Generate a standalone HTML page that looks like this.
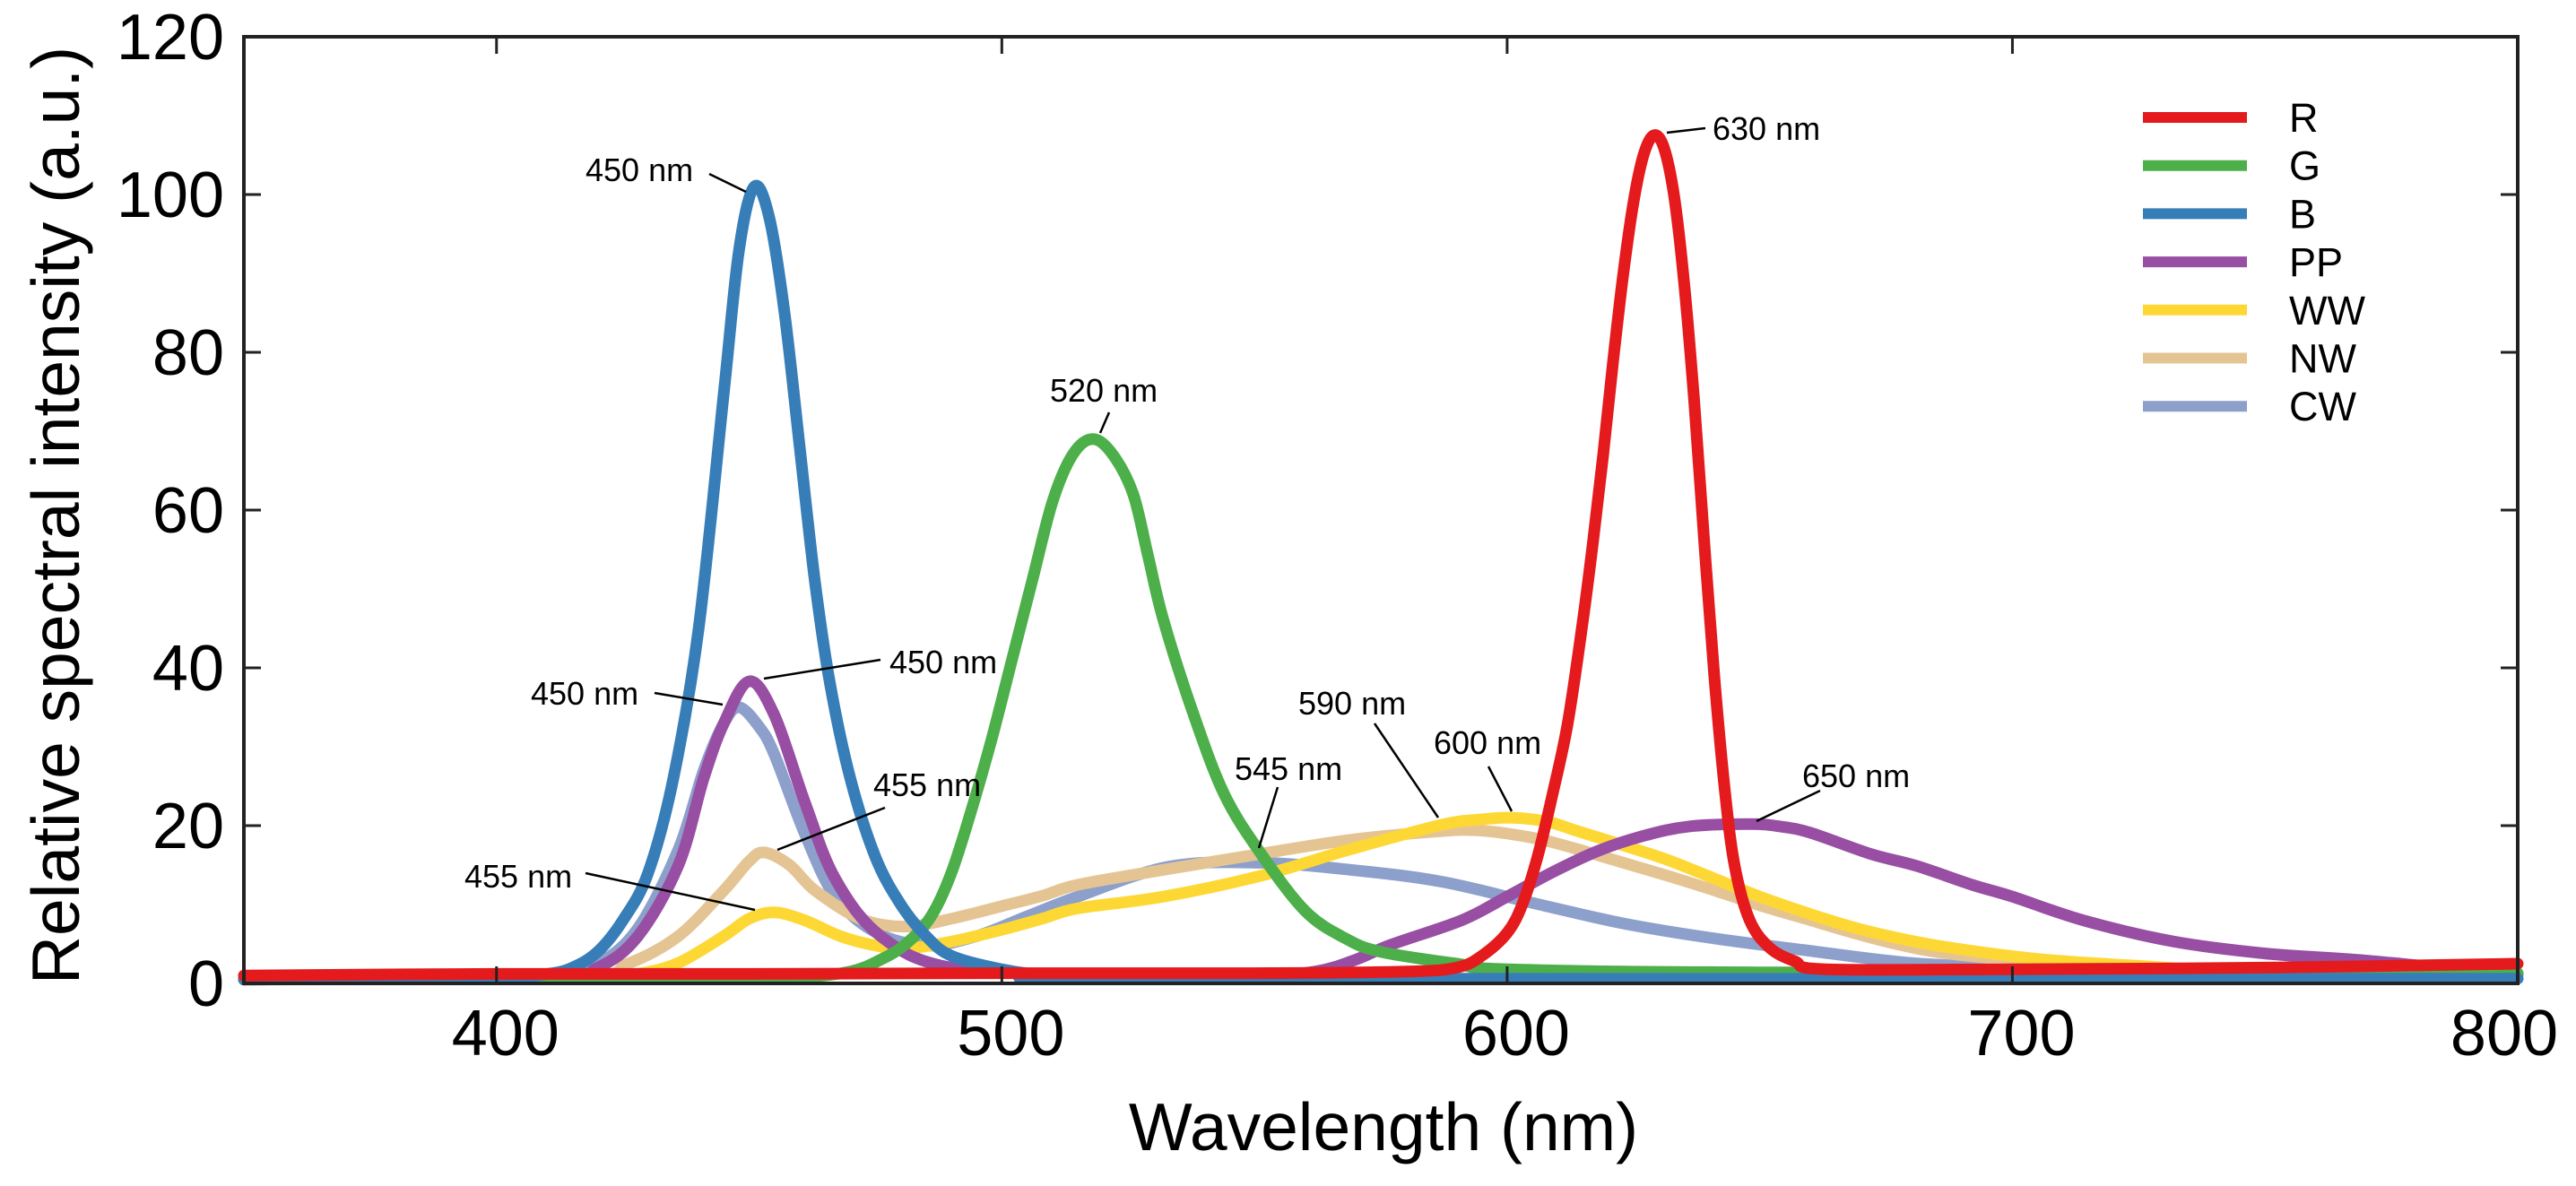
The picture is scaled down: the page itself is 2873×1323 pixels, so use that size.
<!DOCTYPE html>
<html><head><meta charset="utf-8"><style>
html,body{margin:0;padding:0;background:#fff;}
svg{display:block;font-family:"Liberation Sans",Arial,sans-serif;}
</style></head><body>
<svg id="chart" width="2873" height="1323" viewBox="0 0 2873 1323" xmlns="http://www.w3.org/2000/svg">
<rect x="0" y="0" width="2873" height="1323" fill="#fff"/>
<g id="series"></g>
<g id="axes"></g>
<g id="annotations" font-size="36" fill="#000" stroke="none">
  <text x="653" y="202">450 nm</text>
  <line x1="791" y1="194" x2="832" y2="214" stroke="#000" stroke-width="2.5"/>
  <text x="592" y="786">450 nm</text>
  <line x1="730" y1="773" x2="806" y2="786" stroke="#000" stroke-width="2.5"/>
  <text x="992" y="751">450 nm</text>
  <line x1="852" y1="757" x2="982" y2="736" stroke="#000" stroke-width="2.5"/>
  <text x="974" y="888">455 nm</text>
  <line x1="867" y1="948" x2="987" y2="901" stroke="#000" stroke-width="2.5"/>
  <text x="518" y="990">455 nm</text>
  <line x1="653" y1="974" x2="842" y2="1015" stroke="#000" stroke-width="2.5"/>
  <text x="1171" y="448">520 nm</text>
  <line x1="1237" y1="460" x2="1227" y2="483" stroke="#000" stroke-width="2.5"/>
  <text x="1910" y="156">630 nm</text>
  <line x1="1859" y1="148" x2="1902" y2="143" stroke="#000" stroke-width="2.5"/>
  <text x="1448" y="797">590 nm</text>
  <line x1="1533" y1="807" x2="1604" y2="912" stroke="#000" stroke-width="2.5"/>
  <text x="1599" y="841">600 nm</text>
  <line x1="1660" y1="855" x2="1686" y2="905" stroke="#000" stroke-width="2.5"/>
  <text x="1377" y="870">545 nm</text>
  <line x1="1425" y1="878" x2="1404" y2="946" stroke="#000" stroke-width="2.5"/>
  <text x="2010" y="878">650 nm</text>
  <line x1="2030" y1="882" x2="1959" y2="916" stroke="#000" stroke-width="2.5"/>
</g>
<g id="legend"></g>
</svg>
<script>
// ---- data ----
const xTicks = [400, 500, 600, 700, 800];
const yTicks = [0, 20, 40, 60, 80, 100, 120];
const seriesNames = ["R", "G", "B", "PP", "WW", "NW", "CW"];
const seriesColors = ["#e41a1c", "#4daf4a", "#377eb8", "#984ea3", "#fdd835", "#e5c494", "#8da0cb"];

const rWl = [350,400,450,500,550,580,590,595,600,603,606,609,612,615,617,619,621,623,625,627,629,631,633,635,637,639,641,643,645,648,652,657,663,700,750,800];
const rVal = [1,1.2,1.2,1.3,1.3,1.5,2,3.5,6.4,10,16,24,33,46,56,67,79,90,99,105,107.5,106,100,89,74,56,39,25,15,8,4.5,2.8,1.8,1.8,2,2.5];

const gWl = [350,440,460,470,476,481,486,490,494,498,502,506,510,514,518,522,526,529,532,538,544,551,560,568,575,590,600,650,800];
const gVal = [0.5,0.6,0.8,1.5,3,5,8.5,14,22,31,41,51,61,67,69,67,62,54,46,34,24,16.7,9.2,5.7,4,2.5,1.8,1.4,1.3];

const bWl = [350,400,410,415,420,425,430,435,440,445,448,451,454,457,460,463,466,470,475,480,485,490,500,510,530,800];
const bVal = [0.5,0.8,1.2,2,4,8,14,26,45,75,93,101,97,85,68,51,38,26,16,10,6,3.5,1.8,1,0.6,0.6];

const ppWl = [350,410,420,428,436,441,445,450,455,461,467,476,490,520,550,562,570,577,591,600,609,618,627,636,648,654,660,672,681,692,700,714,732,750,768,785,800];
const ppVal = [0.5,0.8,2,6,15,26,33,38.3,34,23,13.3,6,2,1,1,1.5,3,4.9,8,11,14.1,16.8,18.7,19.9,20.2,19.9,19.1,16.4,14.9,12.5,11,8,5.3,3.8,3,2,1.2];

const wwWl = [350,420,428,436,445,450,455,461,468,475,481,490,500,508,515,532,551,569,587,595,601,608,614,623,632,641,650,659,668,677,687,705,723,750,800];
const wwVal = [0.5,0.7,1.2,2.6,6,8.2,9,8,6,4.8,4.4,5.3,6.8,8.2,9.5,11,13.6,17,20.1,20.8,21,20.5,19.3,17.5,15.6,13.3,11,9,7.2,5.8,4.6,3.1,2.3,1.4,0.8];

const nwWl = [350,415,426,436,445,450,453,458,463,472,481,490,500,508,515,532,551,569,587,594,600,607,614,623,632,641,650,659,668,677,687,705,740,800];
const nwVal = [0.5,0.8,2.5,6,11.8,15.5,16.6,15,11.8,8.2,7.2,8.2,9.8,11.1,12.5,14.4,16.4,18.2,19.3,19.4,19,18.2,17,15.3,13.6,11.8,9.9,8.2,6.5,5,3.8,2.7,1.2,0.8];

const cwWl = [350,410,420,428,436,441,445,448,452,455,461,467,475,485,495,505,515,533,551,569,587,605,623,641,659,678,696,720,800];
const cwVal = [0.5,0.8,2.5,7,17,27,33,35,32.5,29,19,11,6.5,4.8,6,8.5,11,14.8,15.3,14.4,12.9,10.2,7.6,5.7,4.2,2.7,2,1.2,0.8];

const seriesWl = [rWl, gWl, bWl, ppWl, wwWl, nwWl, cwWl];
const seriesVal = [rVal, gVal, bVal, ppVal, wwVal, nwVal, cwVal];

// ---- layout ----
const L = 272, R = 2808, T = 41, B = 1097;
const X0 = 350, X1 = 800, Y0 = 0, Y1 = 120;
const xs = v => L + (v - X0) / (X1 - X0) * (R - L);
const ys = v => B - (v - Y0) / (Y1 - Y0) * (B - T);
const NS = "http://www.w3.org/2000/svg";

function smoothPath(pts) {
  let d = "M" + pts[0][0].toFixed(1) + "," + pts[0][1].toFixed(1);
  for (let i = 0; i < pts.length - 1; i++) {
    const p0 = pts[Math.max(0, i - 1)], p1 = pts[i], p2 = pts[i + 1], p3 = pts[Math.min(pts.length - 1, i + 2)];
    const c1x = p1[0] + (p2[0] - p0[0]) / 6, c1y = p1[1] + (p2[1] - p0[1]) / 6;
    const c2x = p2[0] - (p3[0] - p1[0]) / 6, c2y = p2[1] - (p3[1] - p1[1]) / 6;
    d += " C" + c1x.toFixed(1) + "," + c1y.toFixed(1) + " " + c2x.toFixed(1) + "," + c2y.toFixed(1) + " " + p2[0].toFixed(1) + "," + p2[1].toFixed(1);
  }
  return d;
}

const sg = document.getElementById("series");
const order = [6, 5, 4, 3, 1, 2, 0];
order.forEach(i => {
  const pts = seriesWl[i].map((w, k) => [xs(w), ys(seriesVal[i][k])]);
  const p = document.createElementNS(NS, "path");
  p.setAttribute("d", smoothPath(pts));
  p.setAttribute("fill", "none");
  p.setAttribute("stroke", seriesColors[i]);
  p.setAttribute("stroke-width", "13");
  p.setAttribute("stroke-linejoin", "round");
  p.setAttribute("stroke-linecap", "round");
  
  
  sg.appendChild(p);
});

// axes
const ag = document.getElementById("axes");
const frame = document.createElementNS(NS, "rect");
frame.setAttribute("x", L); frame.setAttribute("y", T);
frame.setAttribute("width", R - L); frame.setAttribute("height", B - T);
frame.setAttribute("fill", "none"); frame.setAttribute("stroke", "#222"); frame.setAttribute("stroke-width", "4");


ag.appendChild(frame);

yTicks.forEach(v => {
  const y = ys(v);
  [[L, L + 19], [R - 19, R]].forEach(([a, b]) => {
    const t = document.createElementNS(NS, "line");
    t.setAttribute("x1", a); t.setAttribute("x2", b); t.setAttribute("y1", y); t.setAttribute("y2", y);
    t.setAttribute("stroke", "#222"); t.setAttribute("stroke-width", "3");
    
    
    ag.appendChild(t);
  });
  const tx = document.createElementNS(NS, "text");
  tx.setAttribute("x", 250); tx.setAttribute("y", y + 25);
  tx.setAttribute("text-anchor", "end"); tx.setAttribute("font-size", "72");
  tx.textContent = v;
  
  
  ag.appendChild(tx);
});

xTicks.forEach(v => {
  const x = xs(v);
  if (v < X1) {
    [[B, B - 19], [T, T + 19]].forEach(([a, b]) => {
      const t = document.createElementNS(NS, "line");
      t.setAttribute("x1", x); t.setAttribute("x2", x); t.setAttribute("y1", a); t.setAttribute("y2", b);
      t.setAttribute("stroke", "#222"); t.setAttribute("stroke-width", "3");
      
      
      ag.appendChild(t);
    });
  }
  const tx = document.createElementNS(NS, "text");
  tx.setAttribute("x", v === X1 ? x - 15 : x + 10); tx.setAttribute("y", 1177);
  tx.setAttribute("text-anchor", "middle"); tx.setAttribute("font-size", "72");
  tx.textContent = v;
  
  
  ag.appendChild(tx);
});

const xt = document.createElementNS(NS, "text");
xt.setAttribute("x", 1543); xt.setAttribute("y", 1283);
xt.setAttribute("text-anchor", "middle"); xt.setAttribute("font-size", "75");
xt.textContent = "Wavelength (nm)";


ag.appendChild(xt);

const yt = document.createElementNS(NS, "text");
yt.setAttribute("transform", "translate(88,575) rotate(-90)");
yt.setAttribute("text-anchor", "middle"); yt.setAttribute("font-size", "75");
yt.textContent = "Relative spectral intensity (a.u.)";


ag.appendChild(yt);

// legend
const lg = document.getElementById("legend");
seriesNames.forEach((n, i) => {
  const y = 131 + i * 53.7;
  const ln = document.createElementNS(NS, "line");
  ln.setAttribute("x1", 2390); ln.setAttribute("x2", 2506); ln.setAttribute("y1", y); ln.setAttribute("y2", y);
  ln.setAttribute("stroke", seriesColors[i]); ln.setAttribute("stroke-width", "12");
  
  
  lg.appendChild(ln);
  const tx = document.createElementNS(NS, "text");
  tx.setAttribute("x", 2553); tx.setAttribute("y", y + 16);
  tx.setAttribute("font-size", "45");
  tx.textContent = n;
  
  
  lg.appendChild(tx);
});
</script>
</body></html>
